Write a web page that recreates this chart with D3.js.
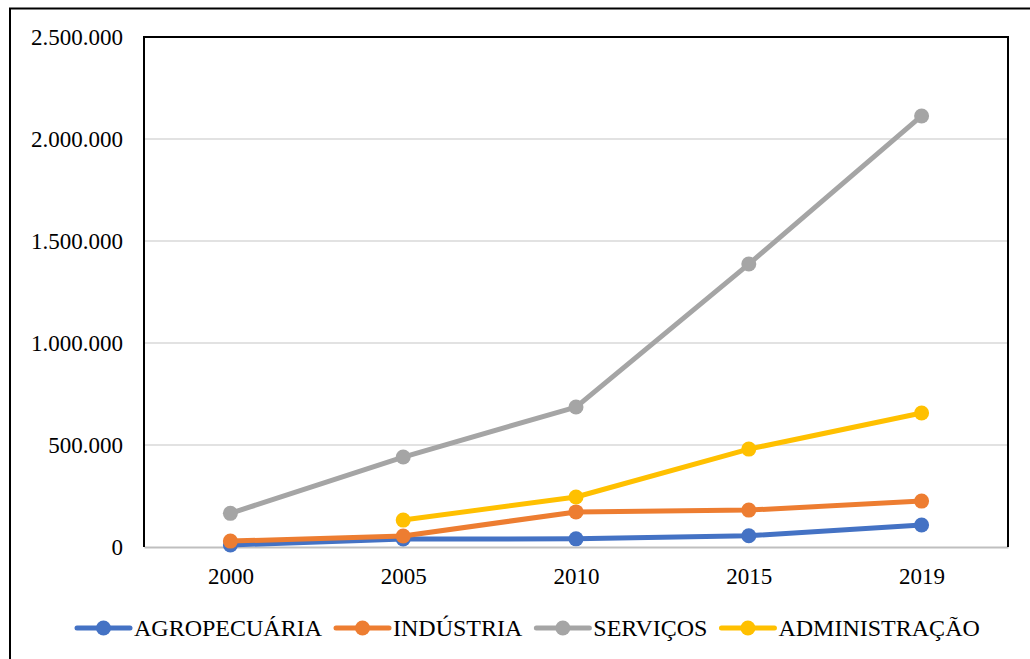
<!DOCTYPE html>
<html>
<head>
<meta charset="utf-8">
<script src="https://cdn.jsdelivr.net/npm/d3@7"></script>
<style>
  body { margin: 0; background: #fff; }
  svg text { font-family: "Liberation Serif", "Times New Roman", "DejaVu Serif", serif; }
</style>
</head>
<body>
<svg width="1030" height="659"></svg>
<script>
// data
const years = ["2000", "2005", "2010", "2015", "2019"]
const yTicks = [0, 500000, 1000000, 1500000, 2000000, 2500000]
const agropecuaria = [10000, 39000, 40000, 55000, 108000]
const industria = [29000, 54000, 172000, 181000, 225000]
const servicos = [165000, 441000, 686000, 1387000, 2113000]
const administracao = [null, 132000, 245000, 480000, 657000]

const seriesNames = ["AGROPECUÁRIA", "INDÚSTRIA", "SERVIÇOS", "ADMINISTRAÇÃO"]
const seriesValues = [agropecuaria, industria, servicos, administracao]
const colours = ["#4472c4", "#ed7d31", "#a5a5a5", "#ffc000"]

const svg = d3.select("svg")
const plotLeft = 144, plotRight = 1008, plotTop = 37, plotBottom = 547
const fontSize = 23

// outer frame (only top + left edges show in the picture)
svg.append("path").attr("d", "M10,659 L10,8.5 L1030,8.5")
    .attr("fill", "none").attr("stroke", "#000").attr("stroke-width", 2)

const x = d3.scalePoint().domain(years).range([plotLeft, plotRight]).padding(0.5)
const y = d3.scaleLinear().domain([0, 2500000]).range([plotBottom, plotTop])

const fmt = v => d3.format(",")(v).replace(/,/g, ".")

// gridlines
svg.append("g").selectAll("line")
    .data(yTicks.filter(d => d > 0))
    .enter().append("line")
    .attr("x1", plotLeft).attr("x2", plotRight)
    .attr("y1", d => y(d)).attr("y2", d => y(d))
    .attr("stroke", "#d9d9d9").attr("stroke-width", 1.5)

// y axis labels
const yAxis = svg.append("g").attr("transform", `translate(${plotLeft},0)`)
    .call(d3.axisLeft(y).tickValues(yTicks).tickFormat(fmt).tickSize(0).tickPadding(21))
yAxis.attr("font-family", null)
yAxis.select(".domain").remove()
yAxis.selectAll("text").attr("font-size", fontSize).attr("fill", "#000")

// x axis
const xAxis = svg.append("g").attr("transform", `translate(0,${plotBottom})`)
    .call(d3.axisBottom(x).tickSize(0).tickPadding(21))
xAxis.attr("font-family", null)
xAxis.select(".domain").attr("stroke", "#bfbfbf").attr("stroke-width", 2)
xAxis.selectAll("text").attr("font-size", fontSize).attr("fill", "#000")

// plot frame
svg.append("path")
    .attr("d", `M${plotLeft},${plotBottom} L${plotLeft},${plotTop} L${plotRight},${plotTop} L${plotRight},${plotBottom}`)
    .attr("fill", "none").attr("stroke", "#000").attr("stroke-width", 2)

const line = d3.line()
    .defined(d => d != null)
    .x((d, i) => x(years[i]))
    .y(d => y(d))

seriesValues.forEach((vals, s) => {
    const g = svg.append("g")
    g.append("path")
        .datum(vals)
        .attr("d", line)
        .attr("fill", "none")
        .attr("stroke", colours[s])
        .attr("stroke-width", 5)
        .attr("stroke-linejoin", "round")
        .attr("stroke-linecap", "round")
    g.selectAll("circle")
        .data(vals.map((v, i) => ({v, i})).filter(d => d.v != null))
        .enter().append("circle")
        .attr("cx", d => x(years[d.i]))
        .attr("cy", d => y(d.v))
        .attr("r", 7.5)
        .attr("fill", colours[s])
})

// legend, laid out left to right
const legendY = 628
let lx = 75
const legend = svg.append("g")
seriesNames.forEach((name, s) => {
    const lg = legend.append("g").attr("transform", `translate(${lx},${legendY})`)
    lg.append("line").attr("x1", 2).attr("x2", 55).attr("y1", 0).attr("y2", 0)
        .attr("stroke", colours[s]).attr("stroke-width", 5).attr("stroke-linecap", "round")
    lg.append("circle").attr("cx", 28.5).attr("cy", 0).attr("r", 7.5).attr("fill", colours[s])
    const t = lg.append("text").attr("x", 59).attr("y", 8)
        .attr("font-size", 24).attr("fill", "#000")
        .text(name)
    lx += 59 + t.node().getComputedTextLength() + 12
})
</script>
</body>
</html>
